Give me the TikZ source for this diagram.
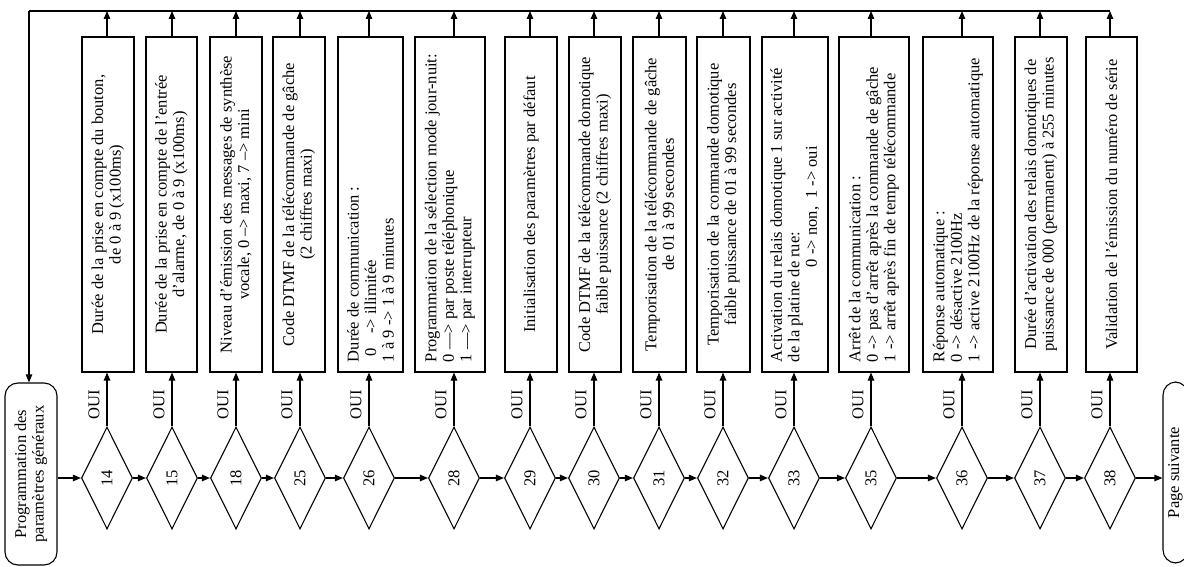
\documentclass[tikz,border=0pt]{standalone}
\usepackage{fontspec}
\setmainfont{Liberation Serif}
\usepackage{graphicx}
\usetikzlibrary{shapes.geometric,arrows.meta}
\newcommand{\mycent}[1]{\rotatebox{90}{\parbox{315pt}{\centering #1}}}
\newcommand{\myleft}[1]{\rotatebox{90}{\parbox{315pt}{\raggedright #1}}}
\tikzset{
  txt/.style={font=\fontsize{16.5pt}{17.5pt}\selectfont},
  box/.style={txt, draw, rectangle, line width=1.1pt, minimum height=335pt, inner sep=0pt},
  dia/.style={txt, draw, diamond, minimum width=51pt, minimum height=102pt, inner sep=0pt, line width=1.1pt},
  term/.style={txt, draw, rectangle, rounded corners=13pt, line width=1.1pt, inner sep=0pt},
  oui/.style={txt, inner sep=0pt, rotate=90},
  arr/.style={-{Triangle[length=8pt,width=6.5pt]}, line width=1.1pt},
  ln/.style={line width=1.1pt}
}
\begin{document}
\begin{tikzpicture}[x=1pt,y=-1pt]
\useasboundingbox (0,0) rectangle (1184,567);
\clip (0,0) rectangle (1184,567);
\fill[white] (0,0) rectangle (1184,567);

% terminals
\node[term, minimum width=52pt, minimum height=182pt] (start) at (31,474)
  {\rotatebox{90}{\parbox{170pt}{\centering Programmation des\\paramètres généraux}}};
\node[term, minimum width=25pt, minimum height=181pt] (next) at (1175.5,472.5)
  {\rotatebox{90}{Page suivante}};

% decisions
\foreach \n/\x in {14/107,15/172,18/236,25/300,26/369,28/454,29/530,30/594,31/659,32/723,33/794,35/871,36/962,37/1040,38/1110}{
  \node[dia] (d\n) at (\x,478) {\rotatebox{90}{\n}};
  \node[oui] (o\n) at (\x-13,405) {OUI};
}

% action boxes
\node[box, minimum width=52pt] (b14) at (108,204.5) {\mycent{Durée de la prise en compte du bouton,\\de 0 à 9 (x100ms)}};
\node[box, minimum width=51pt] (b15) at (171.5,204.5) {\mycent{Durée de la prise en compte de l'entrée\\d'alarme, de 0 à 9 (x100ms)}};
\node[box, minimum width=52pt] (b18) at (236,204.5) {\mycent{Niveau d'émission des messages de synthèse\\vocale, 0 --> maxi, 7 --> mini}};
\node[box, minimum width=52pt] (b25) at (299,204.5) {\mycent{Code DTMF de la télécommande de gâche\\(2 chiffres maxi)}};
\node[box, minimum width=65pt] (b26) at (370.5,204.5) {\myleft{Durée de communication :\\\hspace*{6pt}0\hspace*{14pt}-> illimitée\\1 à 9 -> 1 à 9 minutes}};
\node[box, minimum width=70pt] (b28) at (450,204.5) {\myleft{Programmation de la sélection mode jour-nuit:\\0 ---> par poste téléphonique\\1 ---> par interrupteur}};
\node[box, minimum width=52pt] (b29) at (531,204.5) {\mycent{Initialisation des paramètres par défaut}};
\node[box, minimum width=52pt] (b30) at (595,204.5) {\mycent{Code DTMF de la télécommande domotique\\faible puissance (2 chiffres maxi)}};
\node[box, minimum width=53pt] (b31) at (659.5,204.5) {\mycent{Temporisation de la télécommande de gâche\\de 01 à 99 secondes}};
\node[box, minimum width=53pt] (b32) at (723.5,204.5) {\mycent{Temporisation de la commande domotique\\faible puissance de 01 à 99 secondes}};
\node[box, minimum width=66pt] (b33) at (795,204.5) {\myleft{Activation du relais domotique 1 sur activité\\de la platine de rue:\\\hspace*{95pt}0 -> non,\enspace 1 -> oui}};
\node[box, minimum width=70pt] (b35) at (874,204.5) {\myleft{Arrêt de la communication :\\0 -> pas d'arrêt après la commande de gâche\\1 -> arrêt après fin de tempo télécommande}};
\node[box, minimum width=70pt] (b36) at (958,204.5) {\myleft{Réponse automatique :\\0 -> désactive 2100Hz\\1 -> active 2100Hz de la réponse automatique}};
\node[box, minimum width=52pt] (b37) at (1041,204.5) {\mycent{Durée d'activation des relais domotiques de\\puissance de 000 (permanent) à 255 minutes}};
\node[box, minimum width=51pt] (b38) at (1111.5,204.5) {\mycent{Validation de l'émission du numéro de série}};

% top return line
\coordinate (tl) at (29,11);
\coordinate (tr) at (1110,11);
\draw[ln] (tl) -- (tr);
\draw[arr] (tl) -- (tl |- start.north);

% vertical connectors
\foreach \n in {14,15,18,25,26,28,29,30,31,32,33,35,36,37,38}{
  \draw[arr] (d\n.north) -- (d\n.north |- b\n.south);
  \draw[arr] (d\n.north |- b\n.north) -- (d\n.north |- tl);
}

% horizontal chain
\draw[arr] (start.east |- d14.west) -- (d14.west);
\foreach \a/\b in {14/15,15/18,18/25,25/26,26/28,28/29,29/30,30/31,31/32,32/33,33/35,35/36,36/37,37/38}{
  \draw[arr] (d\a.east) -- (d\b.west);
}
\draw[arr] (d38.east) -- (next.west |- d38.east);
\end{tikzpicture}
\end{document}
